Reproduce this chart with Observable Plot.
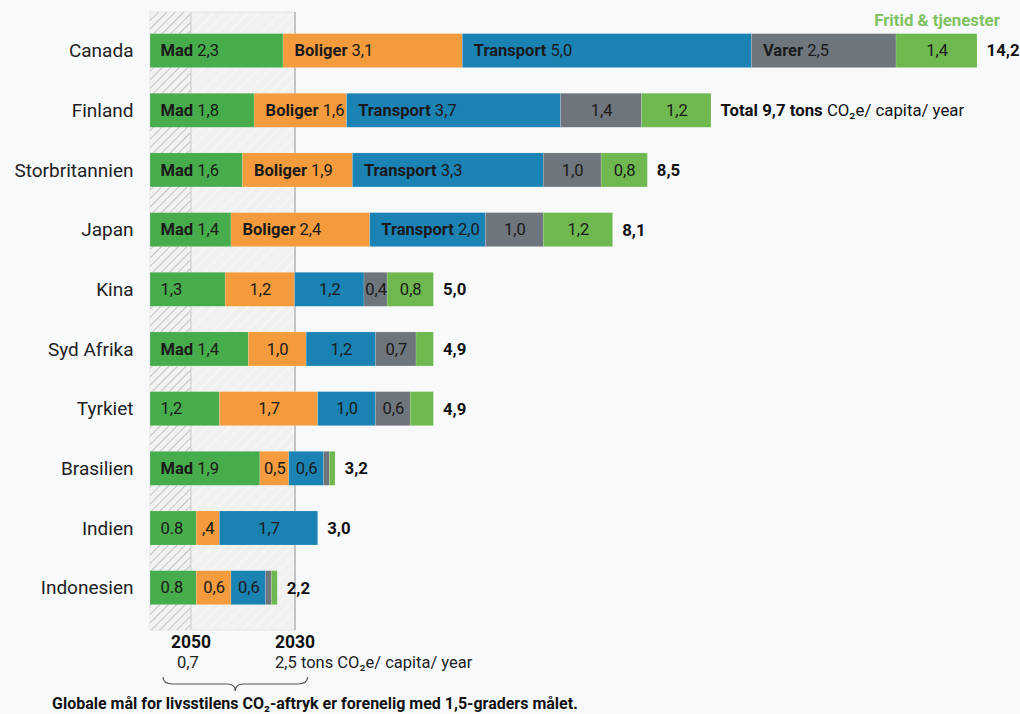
<!DOCTYPE html>
<html>
<head>
<meta charset="utf-8">
<script src="https://cdn.jsdelivr.net/npm/d3@7"></script>
<script src="https://cdn.jsdelivr.net/npm/@observablehq/plot@0.6"></script>
<style>
  html, body { margin: 0; padding: 0; background: #f8f9fb; }
  #chart svg { display: block; }
  #caption { font-family: Roboto, "Noto Sans", sans-serif; font-weight: bold; font-size: 16px; color: #111; margin-left: 52px; height: 20px; line-height: 20px; white-space: nowrap; }
</style>
</head>
<body>
<div id="chart"></div>
<div id="caption">Globale mål for livsstilens CO₂-aftryk er forenelig med 1,5-graders målet.</div>
<script>
// ---- data ----
const countries = ["Canada","Finland","Storbritannien","Japan","Kina","Syd Afrika","Tyrkiet","Brasilien","Indien","Indonesien"];
const categories = ["Mad","Boliger","Transport","Varer","Fritid & tjenester"];
const mad       = [2.3, 1.8, 1.6, 1.4, 1.3, 1.7, 1.2, 1.9, 0.8, 0.8];
const boliger   = [3.1, 1.6, 1.9, 2.4, 1.2, 1.0, 1.7, 0.5, 0.4, 0.6];
const transport = [5.0, 3.7, 3.3, 2.0, 1.2, 1.2, 1.0, 0.6, 1.7, 0.6];
const varer     = [2.5, 1.4, 1.0, 1.0, 0.4, 0.7, 0.6, 0.1, 0.0, 0.1];
const fritid    = [1.4, 1.2, 0.8, 1.2, 0.8, 0.3, 0.4, 0.1, 0.0, 0.1];
const madText       = ["Mad|2,3","Mad|1,8","Mad|1,6","Mad|1,4","1,3","Mad|1,4","1,2","Mad|1,9","0.8","0.8"];
const boligerText   = ["Boliger|3,1","Boliger|1,6","Boliger|1,9","Boliger|2,4","1,2","1,0","1,7","0,5",",4","0,6"];
const transportText = ["Transport|5,0","Transport|3,7","Transport|3,3","Transport|2,0","1,2","1,2","1,0","0,6","1,7","0,6"];
const varerText     = ["Varer|2,5","1,4","1,0","1,0","0,4","0,7","0,6","","",""];
const fritidText    = ["1,4","1,2","0,8","1,2","0,8","","","","",""];
const totalText = ["14,2","Total 9,7 tons|CO₂e/ capita/ year","8,5","8,1","5,0","4,9","4,9","3,2","3,0","2,2"];
const goalYears  = ["2050","2030"];
const goalValues = [0.7, 2.5];
const goalText   = ["0,7","2,5 tons CO₂e/ capita/ year"];
const colors = ["#47ac4b","#f39b3d","#1b82b4","#6e757c","#6fb84f"];

// ---- build tables ----
const series = [mad, boliger, transport, varer, fritid];
const texts = [madText, boligerText, transportText, varerText, fritidText];
const rows = countries.flatMap((c, i) => categories.map((k, j) => ({
  country: c, cat: k, value: series[j][i], label: texts[j][i], j
})));
const totals = countries.map((c, i) => ({country: c, value: d3.sum(series, s => s[i]), label: totalText[i]}));
const goals = goalYears.map((y, i) => ({year: y, value: goalValues[i], label: goalText[i]}));
const fritidMid = d3.sum(series.slice(0, 4), s => s[0]) + fritid[0] / 2;

const isNamed = d => d.label.includes("|");

const plot = Plot.plot({
  width: 1020,
  height: 694,
  marginLeft: 150,
  marginRight: 43,
  marginTop: 12,
  marginBottom: 64,
  style: {background: "#f8f9fb", fontFamily: "Roboto, 'Noto Sans', sans-serif", fontSize: "16px", color: "#1a1a1a", overflow: "visible"},
  x: {domain: [0, 14.3], axis: null},
  y: {domain: countries, paddingInner: 0.43, paddingOuter: 0.393, align: 0.46, round: false, axis: null},
  color: {domain: categories, range: colors},
  marks: [
    Plot.rect(goals.slice(1), {x1: 0, x2: "value", fill: "url(#lightHatch)", stroke: "#e3e3e3"}),
    Plot.rect(goals.slice(0, 1), {x1: 0, x2: "value", fill: "url(#hatch)"}),
    Plot.ruleX(goals.slice(0, 1), {x: "value", stroke: "#c9c9c9"}),
    Plot.ruleX(goals.slice(1), {x: "value", stroke: "#9c9c9c"}),
    Plot.barX(rows, Plot.stackX({x: "value", y: "country", fill: "cat", stroke: "#ffffff", strokeOpacity: 0.25, strokeWidth: 0.6})),
    // green first-segment labels (start aligned)
    Plot.text(rows, Plot.stackX1({x: "value", y: "country", text: d => d.j === 0 ? d.label : "", textAnchor: "start", dx: 10, fontSize: 16.5, fill: "#1a1a1a"})),
    // named labels in other segments (start aligned)
    Plot.text(rows, Plot.stackX1({x: "value", y: "country", text: d => d.j > 0 && isNamed(d) ? d.label : "", textAnchor: "start", dx: 11, fontSize: 16.5, fill: "#1a1a1a"})),
    // unnamed labels in other segments (centered)
    Plot.text(rows, Plot.stackX({x: "value", y: "country", text: d => d.j > 0 && !isNamed(d) ? d.label : "", fontSize: 16.5, fill: "#1a1a1a"})),
    // totals
    Plot.text(totals, {x: "value", y: "country", text: "label", textAnchor: "start", dx: 9, fontSize: 16.8, fontWeight: "bold", fill: "#111"}),
    // country names
    Plot.text(countries, {y: d => d, text: d => d, frameAnchor: "left", textAnchor: "end", dx: -17, fontSize: 19, fill: "#222"}),
    // legend label for Fritid
    Plot.text(["Fritid & tjenester"], {x: () => fritidMid, y: () => countries[0], text: d => d, dy: -30, fontSize: 16.8, fontWeight: "bold", fill: "#80c261"}),
    // bottom goal labels
    Plot.text(goals, {x: "value", text: "year", frameAnchor: "bottom", lineAnchor: "top", dy: 5, fontSize: 17.5, fontWeight: "bold", fill: "#111"}),
    Plot.text(goals.slice(0, 1), {x: "value", text: "label", frameAnchor: "bottom", lineAnchor: "top", dy: 26, dx: -3, fontSize: 16.5, fill: "#222"}),
    Plot.text(goals.slice(1), {x: "value", text: "label", frameAnchor: "bottom", lineAnchor: "top", dy: 26, dx: -20, textAnchor: "start", fontSize: 16.5, fill: "#222"})
  ]
});

// patterns
const ns = "http://www.w3.org/2000/svg";
const defs = document.createElementNS(ns, "defs");
defs.innerHTML = `
  <pattern id="hatch" patternUnits="userSpaceOnUse" width="6" height="6" patternTransform="rotate(45)">
    <rect width="6" height="6" fill="#f2f2f2"></rect>
    <line x1="0" y1="0" x2="0" y2="6" stroke="#9a9a9a" stroke-width="1.1"></line>
  </pattern>
  <pattern id="lightHatch" patternUnits="userSpaceOnUse" width="8" height="8" patternTransform="rotate(45)">
    <rect width="8" height="8" fill="#f1f1f1"></rect>
    <line x1="0" y1="0" x2="0" y2="8" stroke="#f8f8f8" stroke-width="2"></line>
  </pattern>`;
plot.insertBefore(defs, plot.firstChild);

// split "bold|regular" labels into tspans
plot.querySelectorAll("text").forEach(t => {
  const s = t.textContent;
  if (s.includes("|") && t.children.length === 0) {
    const [a, b] = s.split("|");
    t.textContent = "";
    const t1 = document.createElementNS(ns, "tspan");
    t1.setAttribute("font-weight", "bold");
    t1.textContent = a;
    const t2 = document.createElementNS(ns, "tspan");
    t2.setAttribute("font-weight", "normal");
    t2.textContent = " " + b;
    t.appendChild(t1); t.appendChild(t2);
  }
});

// brace under the goal region
const xs = plot.scale("x");
const L = xs.apply(0) + 13, R = xs.apply(goalValues[1]) + 13, M = (L + R) / 2;
const fb = 694 - 64;
const path = document.createElementNS(ns, "path");
path.setAttribute("d", `M${L},${fb+47} Q${L},${fb+54} ${L+10},${fb+54} L${M-8},${fb+54} Q${M},${fb+54} ${M},${fb+61} Q${M},${fb+54} ${M+8},${fb+54} L${R-10},${fb+54} Q${R},${fb+54} ${R},${fb+47}`);
path.setAttribute("fill", "none");
path.setAttribute("stroke", "#555");
path.setAttribute("stroke-width", "1.2");
plot.appendChild(path);

document.getElementById("chart").appendChild(plot);
</script>
</body>
</html>
